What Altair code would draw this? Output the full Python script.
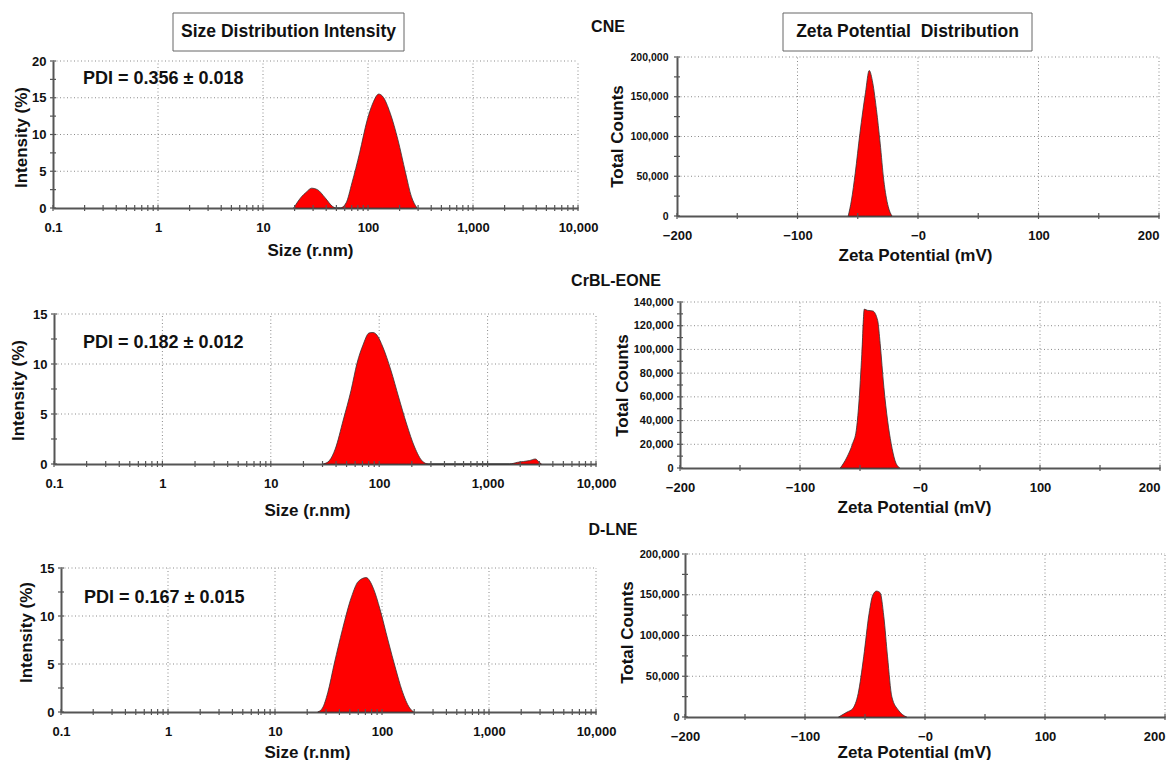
import altair as alt
import pandas as pd

FONT = "Liberation Sans"
W, H = 1166, 760

# ---------------- values ----------------
SAMPLES = ["CNE", "CrBL-EONE", "D-LNE"]
PDI_TEXT = ["PDI = 0.356 ± 0.018", "PDI = 0.182 ± 0.012", "PDI = 0.167 ± 0.015"]
BOX_TITLES = ["Size Distribution Intensity", "Zeta Potential\u00a0 Distribution"]

CNE_SIZE_NM = [19.6, 23.5, 25.6, 29.1, 33.0, 39.0, 46.1, 49.3, 54.6, 61.9, 70.3, 83.2,
               98.4, 111.5, 126.5, 137.6, 162.8, 192.6, 227.8, 258.4, 293]
CNE_SIZE_INT = [0, 1.6, 2.1, 2.7, 2.5, 1.4, 0.2, 0, 0, 0.7, 3.4, 7.5,
                12.0, 14.3, 15.5, 15.2, 12.9, 9.3, 4.8, 1.6, 0]

CRBL_SIZE_NM = [30.5, 34.7, 39.3, 46.6, 55.1, 62.5, 70.9, 80.5, 87.6, 95.2, 108, 128,
                151, 179, 212, 251, 284, 1596, 1888, 2432, 2760, 3000, 3133]
CRBL_SIZE_INT = [0, 0.34, 1.5, 4.4, 7.4, 10.1, 11.9, 13.1, 13.15, 12.9, 11.7, 9.4,
                 6.7, 4.0, 1.7, 0.27, 0, 0, 0.17, 0.34, 0.5, 0.17, 0]

DLNE_SIZE_NM = [25.1, 27.8, 31.1, 35.9, 42.7, 51.9, 60.0, 71.1, 82.9, 95.8, 113.6,
                134.9, 153.2, 181.5, 197.7]
DLNE_SIZE_INT = [0, 0.42, 2.0, 5.1, 8.6, 12.0, 13.6, 14.0, 12.9, 10.7, 7.5,
                 4.4, 2.3, 0.42, 0]

CNE_ZETA_MV = [-57.9, -55.2, -52.1, -48.2, -43.6, -40.5, -37.5, -34.5, -31.4, -28.4, -24.7, -21.6]
CNE_ZETA_CNT = [0, 20000, 53800, 104000, 155000, 183000, 167000, 134000, 91600, 45000, 11800, 0]

CRBL_ZETA_MV = [-66.4, -60.8, -56.2, -53.1, -51.0, -48.5, -46.4, -43.9, -39.3, -35.3,
                -33.2, -30.1, -27.0, -24.0, -20.9, -16.9]
CRBL_ZETA_CNT = [0, 9300, 20500, 31800, 54000, 96000, 134000, 133000, 132400, 124500,
                 105000, 68000, 40000, 20500, 6500, 0]

DLNE_ZETA_MV = [-72, -64.9, -60.3, -55.7, -51.1, -46.6, -43.5, -40.4, -37.4, -34.3,
                -31.2, -27.6, -22.1, -15.3]
DLNE_ZETA_CNT = [0, 6100, 10200, 28700, 73800, 127000, 149600, 154500, 152500, 123000,
                 73800, 24600, 8200, 0]

# axis ticks / labels
SIZE_X_LABELS = [0.1, 1, 10, 100, 1000, 10000]
SIZE_DECADES = [0.1, 1, 10, 100, 1000]
SIZE_MINOR_MULT = [2, 3, 4, 5, 6, 7, 8, 9]
SIZE_X_TICKS = SIZE_X_LABELS + [d * m for d in SIZE_DECADES for m in SIZE_MINOR_MULT]
ZETA_X_LABELS = [-200, -100, 0, 100, 200]
ZETA_X_TICKS = [-200, -150, -100, -50, 0, 50, 100, 150, 200]
INT20_LABELS = [0, 5, 10, 15, 20]
INT20_TICKS = [0, 2.5, 5, 7.5, 10, 12.5, 15, 17.5, 20]
INT15_LABELS = [0, 5, 10, 15]
INT15_TICKS = [0, 2.5, 5, 7.5, 10, 12.5, 15]
CNT200_LABELS = [0, 50000, 100000, 150000, 200000]
CNT200_TICKS = [0, 25000, 50000, 75000, 100000, 125000, 150000, 175000, 200000]
CNT140_LABELS = [0, 20000, 40000, 60000, 80000, 100000, 120000, 140000]
CNT140_TICKS = [0, 10000, 20000, 30000, 40000, 50000, 60000, 70000, 80000, 90000,
                100000, 110000, 120000, 130000, 140000]

AXIS_COLOR = "#555555"
GRID = dict(color="#8a8a8a", strokeDash=[1, 2.5], strokeWidth=1)
ZETA_LABEL_EXPR = "datum.value <= 0 ? '\u2212' + abs(datum.value) : '' + datum.value"
ZETA_LABEL_ALIGN = {"condition": {"test": "datum.value >= 200", "value": "right"},
                    "value": "center"}


def panel(xs, ys, xlog, xdom, xr, ydom, yr, x_labels, x_ticks, y_labels, y_ticks,
          xtitle, ytitle, xt_pos, yt_pos, ylab_size, ylab_pad, zeta):
    def sx():
        return alt.Scale(type="log" if xlog else "linear", domain=xdom, range=xr,
                         nice=False, **({} if xlog else {"zero": False}))

    def sy():
        return alt.Scale(type="linear", domain=ydom, range=yr, nice=False, zero=False)

    if zeta:
        xfmt = {"labelExpr": ZETA_LABEL_EXPR, "labelAlign": ZETA_LABEL_ALIGN}
    else:
        xfmt = {"format": ","}
    xaxis = alt.Axis(orient="bottom", offset=yr[0] - H, values=x_labels, grid=False,
                     ticks=False, domainColor=AXIS_COLOR, domainWidth=2,
                     labelFont=FONT, labelFontSize=13, labelFontWeight="bold",
                     labelColor="#111111", labelPadding=13, labelFlush=False,
                     labelOverlap=False, title=xtitle, titleFont=FONT, titleFontSize=17,
                     titleFontWeight="bold", titleColor="#111111", titleX=xt_pos[0],
                     titleY=xt_pos[1], titleBaseline="middle", titleAlign="center",
                     **xfmt)
    yaxis = alt.Axis(orient="left", offset=-xr[0], values=y_labels, grid=False,
                     ticks=False, domainColor=AXIS_COLOR, domainWidth=2,
                     labelFont=FONT, labelFontSize=ylab_size, labelFontWeight="bold",
                     labelColor="#111111", labelPadding=ylab_pad, labelFlush=False,
                     labelOverlap=False, format=",d" if zeta else "d",
                     title=ytitle, titleFont=FONT, titleFontSize=17,
                     titleFontWeight="bold", titleColor="#111111", titleX=yt_pos[0],
                     titleY=yt_pos[1], titleBaseline="middle", titleAlign="center",
                     titleAngle=270)
    df = pd.DataFrame({"x": xs, "y": ys})
    x_grid = [v for v in x_labels if v != xdom[0]]
    y_grid = [v for v in y_labels if v != ydom[0]]
    vgrid = alt.Chart(pd.DataFrame({"v": x_grid, "a": ydom[0], "b": ydom[1]})).mark_rule(**GRID).encode(
        x=alt.X("v:Q", scale=sx(), axis=None),
        y=alt.Y("a:Q", scale=sy(), axis=None),
        y2="b:Q")
    hgrid = alt.Chart(pd.DataFrame({"v": y_grid, "a": xdom[0], "b": xdom[1]})).mark_rule(**GRID).encode(
        y=alt.Y("v:Q", scale=sy(), axis=None),
        x=alt.X("a:Q", scale=sx(), axis=None),
        x2="b:Q")
    area = alt.Chart(df.assign(base=0)).mark_area(
        fill="#ff0000", stroke="#333333", strokeWidth=0.8,
        interpolate="monotone", opacity=1).encode(
        x=alt.X("x:Q", scale=sx(), axis=xaxis),
        y=alt.Y("y:Q", scale=sy(), axis=yaxis),
        y2="base:Q")
    xt = alt.Chart(pd.DataFrame({"v": x_ticks, "a": ydom[0]})).mark_rule(
        color=AXIS_COLOR, strokeWidth=1.2, yOffset=-3, y2Offset=3).encode(
        x=alt.X("v:Q", scale=sx(), axis=None),
        y=alt.Y("a:Q", scale=sy(), axis=None),
        y2="a:Q")
    yt = alt.Chart(pd.DataFrame({"v": y_ticks, "a": xdom[0]})).mark_rule(
        color=AXIS_COLOR, strokeWidth=1.2, xOffset=-3, x2Offset=3).encode(
        y=alt.Y("v:Q", scale=sy(), axis=None),
        x=alt.X("a:Q", scale=sx(), axis=None),
        x2="a:Q")
    return [vgrid, hgrid, area, xt, yt]


SIZE_DOM = [0.1, 10000]
ZETA_DOM = [-200, 200]

layers = []
layers += panel(CNE_SIZE_NM, CNE_SIZE_INT, True, SIZE_DOM, [53, 578], [0, 20], [208, 61],
                SIZE_X_LABELS, SIZE_X_TICKS, INT20_LABELS, INT20_TICKS,
                "Size (r.nm)", "Intensity (%)", (310, 42), (-32, 137), 13, 7, False)
layers += panel(CNE_ZETA_MV, CNE_ZETA_CNT, False, ZETA_DOM, [677, 1159], [0, 200000], [216, 57],
                ZETA_X_LABELS, ZETA_X_TICKS, CNT200_LABELS, CNT200_TICKS,
                "Zeta Potential (mV)", "Total Counts", (915, 39), (-60, 136), 10.5, 9, True)
layers += panel(CRBL_SIZE_NM, CRBL_SIZE_INT, True, SIZE_DOM, [54, 596], [0, 15], [464, 314],
                SIZE_X_LABELS, SIZE_X_TICKS, INT15_LABELS, INT15_TICKS,
                "Size (r.nm)", "Intensity (%)", (307, 46), (-36, 390), 13, 7, False)
layers += panel(CRBL_ZETA_MV, CRBL_ZETA_CNT, False, ZETA_DOM, [680, 1160], [0, 140000], [468, 302],
                ZETA_X_LABELS, ZETA_X_TICKS, CNT140_LABELS, CNT140_TICKS,
                "Zeta Potential (mV)", "Total Counts", (914, 39), (-58, 385), 11, 7, True)
layers += panel(DLNE_SIZE_NM, DLNE_SIZE_INT, True, SIZE_DOM, [61, 596], [0, 15], [712, 568],
                SIZE_X_LABELS, SIZE_X_TICKS, INT15_LABELS, INT15_TICKS,
                "Size (r.nm)", "Intensity (%)", (307, 40), (-35, 632), 13, 7, False)
layers += panel(DLNE_ZETA_MV, DLNE_ZETA_CNT, False, ZETA_DOM, [685, 1165], [0, 200000], [717, 554],
                ZETA_X_LABELS, ZETA_X_TICKS, CNT200_LABELS, CNT200_TICKS,
                "Zeta Potential (mV)", "Total Counts", (914, 35), (-58, 632), 11, 6, True)


def text_layer(txt, x, y, size, align="center"):
    return alt.Chart(pd.DataFrame({"t": [txt]})).mark_text(
        font=FONT, fontSize=size, fontWeight="bold", color="#111111",
        align=align, baseline="middle").encode(
        text="t:N", x=alt.value(x), y=alt.value(y))


def box_layer(x0, x1, y0, y1):
    return alt.Chart(pd.DataFrame({"t": [0]})).mark_rect(
        fill="white", stroke="#666666", strokeWidth=1).encode(
        x=alt.value(x0), x2=alt.value(x1), y=alt.value(y0), y2=alt.value(y1))


layers += [
    box_layer(173, 404, 13, 51),
    box_layer(783, 1032, 13, 51),
    text_layer(BOX_TITLES[0], 288.5, 32, 17.5),
    text_layer(BOX_TITLES[1], 907.5, 32, 17.5),
    text_layer(SAMPLES[0], 608, 27, 16),
    text_layer(SAMPLES[1], 616, 281, 16),
    text_layer(SAMPLES[2], 613, 530, 16),
    text_layer(PDI_TEXT[0], 83, 79, 18, "left"),
    text_layer(PDI_TEXT[1], 83, 343, 18, "left"),
    text_layer(PDI_TEXT[2], 84, 598, 18, "left"),
]

chart = alt.layer(*layers).resolve_scale(
    x="independent", y="independent"
).resolve_axis(
    x="independent", y="independent"
).properties(
    width=W, height=H, padding=0, background="white",
    autosize=alt.AutoSizeParams(type="none"),
).configure_view(stroke=None)

chart.save("out.html", embed_options={"renderer": "svg", "actions": False})
